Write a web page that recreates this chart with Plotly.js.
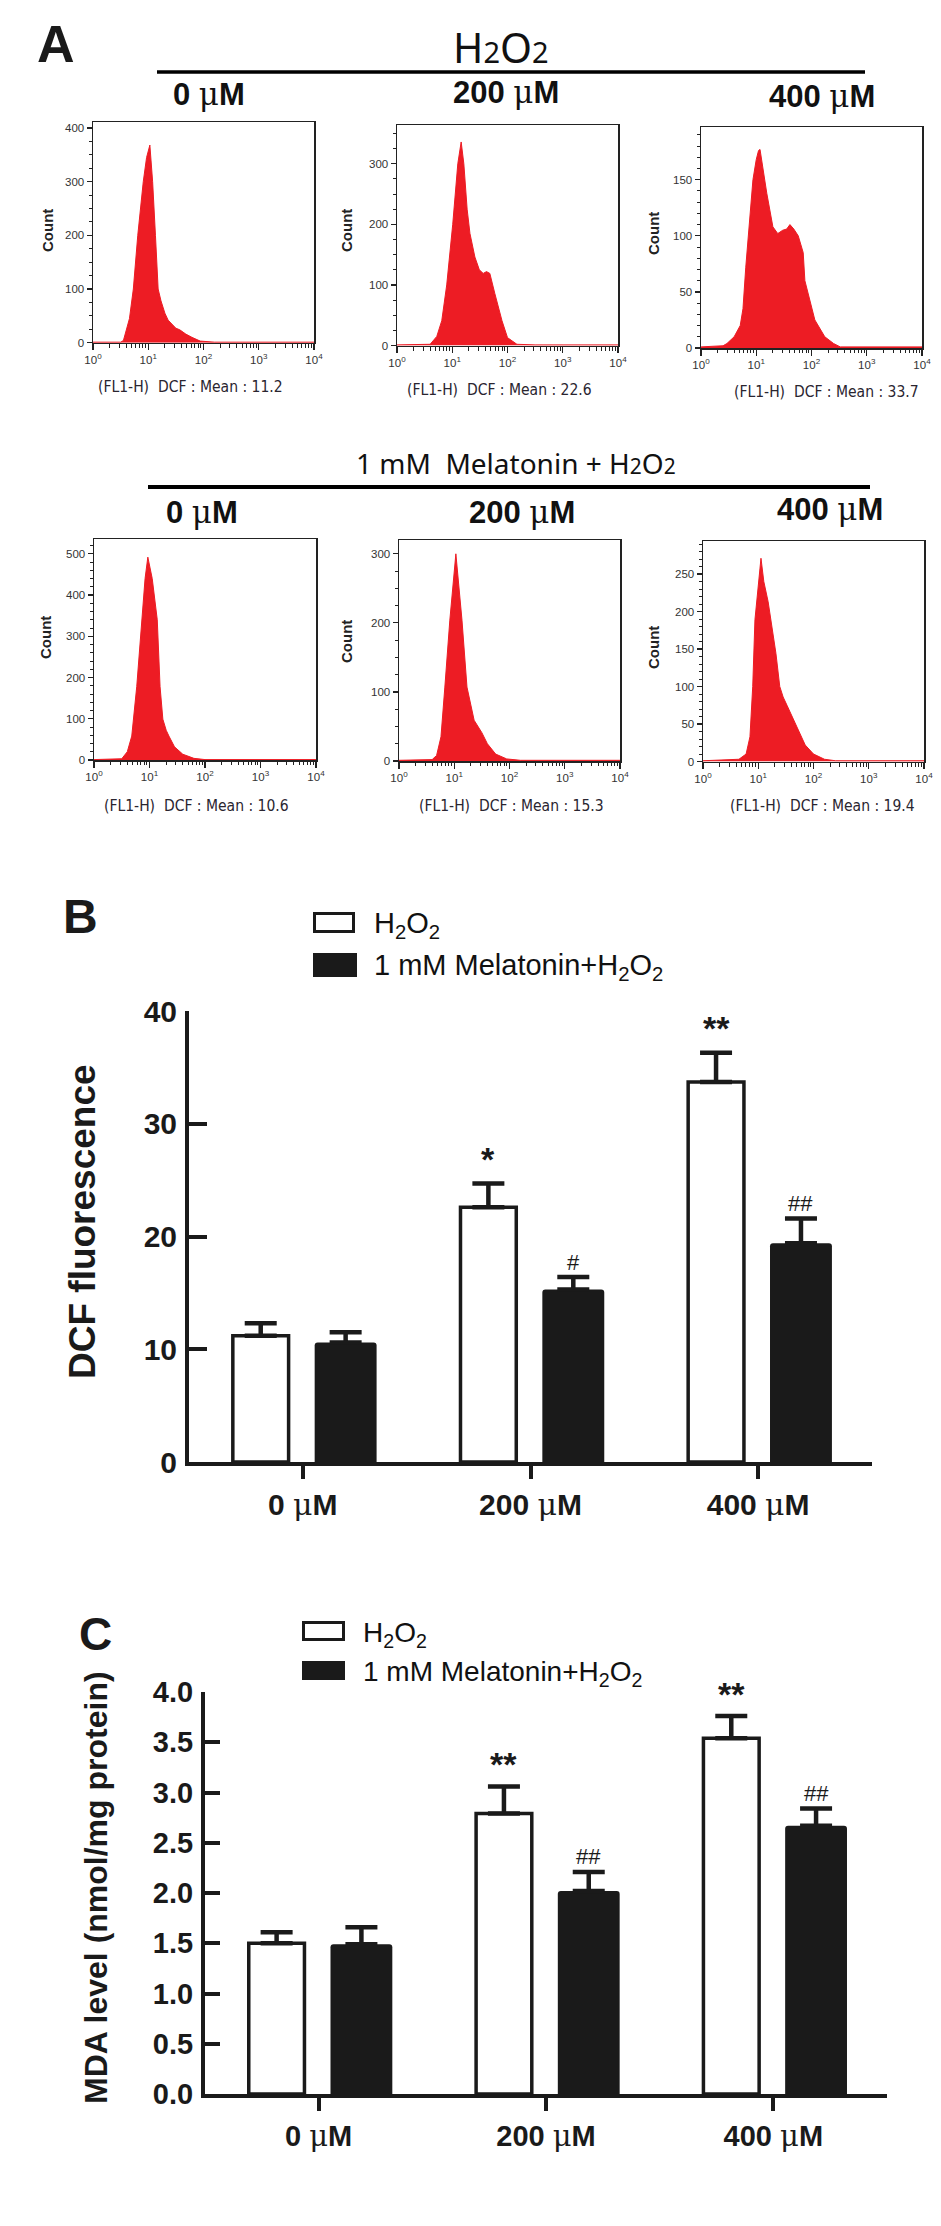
<!DOCTYPE html>
<html><head><meta charset="utf-8">
<script src="https://cdn.plot.ly/plotly-3.0.1.min.js"></script>
<style>html,body{margin:0;padding:0;background:#fff}#chart{width:941px;height:2226px}</style>
</head><body><div id="chart"></div>
<script>
// ================= DATA =================
const doseLabels = ['0 μM', '200 μM', '400 μM'];
const doseIndex = [0, 1, 2];

// Panel A – flow cytometry histograms: DCF intensity (FL1-H) vs. cell count
const h2o2_0_int   = [1, 3.16, 3.55, 3.98, 4.57, 5.37, 6.46, 8.13, 9.33, 10.7, 12.0, 13.5, 15.1, 17.0, 20.0, 22.9, 26.9, 31.6, 37.2, 47.9, 61.7, 87.1, 158, 10000];
const h2o2_0_cnt   = [1, 1, 4, 22, 45, 100, 200, 300, 345, 368, 300, 200, 100, 78, 55, 42, 34, 27, 24, 16, 10, 3, 1, 1];
const h2o2_200_int = [1, 3.98, 5.25, 6.46, 7.94, 10.2, 12.6, 14.5, 16.2, 18.6, 20.9, 25.7, 30.9, 36.3, 41.7, 47.9, 58.9, 69.2, 79.4, 100, 148, 316, 10000];
const h2o2_200_cnt = [1, 2, 15, 41, 100, 200, 300, 336, 300, 225, 185, 146, 125, 119, 122, 119, 86, 60, 41, 13, 2, 1, 1];
const h2o2_400_int = [1, 2.51, 2.95, 3.98, 5.13, 5.75, 6.46, 7.76, 8.71, 10.0, 11.0, 11.7, 13.2, 15.5, 20.0, 24.5, 30.2, 35.5, 40.7, 47.9, 57.5, 70.8, 75.9, 93.3, 115, 174, 251, 331, 10000];
const h2o2_400_cnt = [1, 2, 4, 10, 20, 35, 72, 117, 150, 168, 176, 177, 160, 138, 108, 102, 105, 106, 110, 106, 100, 85, 60, 43, 25, 10, 4, 1, 1];
const mel_0_int    = [1, 3.16, 3.98, 4.79, 5.89, 7.24, 8.32, 9.33, 11.2, 13.8, 15.5, 17.4, 20.0, 22.4, 28.2, 39.8, 63.1, 100, 10000];
const mel_0_cnt    = [1, 3, 20, 58, 178, 340, 440, 492, 440, 340, 178, 99, 72, 58, 32, 14, 4, 1, 1];
const mel_200_int  = [1, 3.98, 4.79, 5.75, 6.76, 8.32, 10.7, 12.0, 13.8, 17.0, 22.9, 31.6, 39.8, 56.2, 89.1, 158, 10000];
const mel_200_cnt  = [1, 2, 8, 35, 107, 204, 300, 260, 204, 107, 59, 41, 25, 10, 3, 1, 1];
const mel_400_int  = [1, 4.47, 6.03, 7.08, 7.94, 8.71, 11.2, 12.6, 15.1, 17.0, 20.9, 24.5, 28.2, 33.1, 38.9, 52.5, 70.8, 100, 158, 251, 10000];
const mel_400_cnt  = [1, 3, 10, 33, 100, 189, 271, 240, 213, 189, 144, 100, 86, 75, 64, 42, 22, 10, 3, 1, 1];
const histMeans    = ['11.2', '22.6', '33.7', '10.6', '15.3', '19.4'];
const histYMax     = [411, 364, 197, 536, 320, 294];
const histYDtick   = [100, 100, 50, 100, 100, 50];
const histYMinor   = [25, 25, 10, 20, 25, 10];
const logTickText  = ['10<sup>0</sup>', '10<sup>1</sup>', '10<sup>2</sup>', '10<sup>3</sup>', '10<sup>4</sup>'];

// Panel B – DCF fluorescence (mean, SEM)
const dcfH2O2    = [11.2, 22.6, 33.7];
const dcfH2O2Err = [1.1, 2.1, 2.6];
const dcfMel     = [10.6, 15.3, 19.4];
const dcfMelErr  = [0.9, 1.1, 2.2];
const dcfSigH2O2 = ['', '*', '**'];
const dcfSigMel  = ['', '#', '##'];

// Panel C – MDA level (nmol/mg protein)
const mdaH2O2    = [1.50, 2.79, 3.54];
const mdaH2O2Err = [0.11, 0.27, 0.22];
const mdaMel     = [1.49, 2.02, 2.67];
const mdaMelErr  = [0.17, 0.19, 0.17];
const mdaSigH2O2 = ['', '**', '**'];
const mdaSigMel  = ['', '##', '##'];

// ================= LAYOUT HELPERS =================
const W = 941, H = 2226;
const X = v => v / W, Y = v => 1 - v / H;
const RED = '#ED1C24', INK = '#1a1a1a';
const ARIAL = 'Liberation Sans, Arial, sans-serif';
const NARROW = 'Liberation Sans Narrow, Arial Narrow, DejaVu Sans Condensed, sans-serif';
const HEAD = 'Noto Sans, sans-serif';
const muSpan = '<span style="font-family:DejaVu Serif;font-weight:normal">μ</span>';
const doseText = doseLabels.map(s => s.replace('μ', muSpan));
const small2 = px => '<span style="font-size:' + px + 'px">2</span>';

const traces = [];
const layout = {
  width: W, height: H, margin: {l: 0, r: 0, t: 0, b: 0},
  paper_bgcolor: '#fff', plot_bgcolor: 'rgba(0,0,0,0)',
  showlegend: false, barmode: 'overlay',
  shapes: [], annotations: []
};
function ann(text, x, y, font, extra) {
  return Object.assign({text, x: X(x), y: Y(y), xref: 'paper', yref: 'paper', showarrow: false,
    xanchor: 'center', yanchor: 'middle', font: Object.assign({family: ARIAL, color: INK}, font)}, extra || {});
}

// ================= PANEL A =================
const histInt = [h2o2_0_int, h2o2_200_int, h2o2_400_int, mel_0_int, mel_200_int, mel_400_int];
const histCnt = [h2o2_0_cnt, h2o2_200_cnt, h2o2_400_cnt, mel_0_cnt, mel_200_cnt, mel_400_cnt];
// pixel frames [left, right, top, bottom]
const histBox = [[93, 314, 122, 342.7], [397, 618, 125, 345.5], [701, 922, 127, 348],
                 [94, 316, 539, 760], [399, 620, 540, 761], [703, 924, 541, 761.5]];
const minorLog = [];
for (let d = 1; d <= 1000; d *= 10) for (let m = 2; m <= 9; m++) minorLog.push(m * d);

for (let k = 0; k < 6; k++) {
  const n = k + 1, sfx = n === 1 ? '' : String(n);
  const b = histBox[k];
  traces.push({type: 'scatter', mode: 'lines', x: histInt[k], y: histCnt[k],
    xaxis: 'x' + sfx, yaxis: 'y' + sfx, fill: 'tozeroy', fillcolor: RED,
    line: {color: RED, width: 1}, hoverinfo: 'skip'});
  layout['xaxis' + sfx] = {type: 'log', range: [0, 4], domain: [X(b[0]), X(b[1])], anchor: 'y' + sfx,
    showline: true, linecolor: '#222', linewidth: 1.5, mirror: true, ticks: 'outside', ticklen: 6,
    tickwidth: 1.2, tickcolor: '#222', tickmode: 'array', tickvals: [1, 10, 100, 1000, 10000], ticktext: logTickText,
    tickfont: {family: ARIAL, size: 11.5, color: '#333'},
    minor: {tickmode: 'array', tickvals: minorLog, ticks: 'outside', ticklen: 3.5, tickwidth: 1, tickcolor: '#222'},
    showgrid: false, zeroline: false, fixedrange: true};
  layout['yaxis' + sfx] = {range: [0, histYMax[k]], domain: [Y(b[3]), Y(b[2])], anchor: 'x' + sfx,
    showline: true, linecolor: '#222', linewidth: 1.5, mirror: true, ticks: 'outside', ticklen: 5,
    tickwidth: 1.2, tickcolor: '#222', tick0: 0, dtick: histYDtick[k],
    tickfont: {family: ARIAL, size: 11.5, color: '#333'},
    minor: {dtick: histYMinor[k], ticks: 'outside', ticklen: 3, tickwidth: 1, tickcolor: '#222'},
    showgrid: false, zeroline: false, fixedrange: true};
  const countPos = [[48, 231], [347, 231], [654, 234], [45, 638], [346, 642], [654, 648]][k];
  layout.annotations.push(ann('Count', countPos[0], countPos[1], {size: 15, weight: 'bold', family: ARIAL, color: '#222'}, {textangle: -90}));
  const meanPos = [[190, 387], [500, 390], [826, 392], [196, 806], [511, 806], [822, 806]][k];
  layout.annotations.push(ann('(FL1-H)  DCF : Mean : ' + histMeans[k], meanPos[0], meanPos[1], {size: 15.5, family: NARROW, color: '#2a2530'}));
}

// Panel A headings
layout.annotations.push(ann('A', 56, 44, {size: 52, weight: 'bold'}));
layout.annotations.push(ann('H' + small2(29) + 'O' + small2(29), 501, 47, {size: 41, family: HEAD, color: '#111'}));
layout.annotations.push(ann('1 mM  Melatonin + H' + small2(21) + 'O' + small2(21), 516, 463, {size: 28, family: HEAD, color: '#111'}));
layout.shapes.push({type: 'line', xref: 'paper', yref: 'paper', x0: X(157), x1: X(865), y0: Y(72), y1: Y(72), line: {color: '#000', width: 3.5}});
layout.shapes.push({type: 'line', xref: 'paper', yref: 'paper', x0: X(148), x1: X(870), y0: Y(487), y1: Y(487), line: {color: '#000', width: 4}});
const topHead = [[209, 94], [506, 92], [822, 96]];
const lowHead = [[202, 512], [522, 512], [830, 509]];
for (let i = 0; i < 3; i++) {
  layout.annotations.push(ann(doseText[i], topHead[i][0], topHead[i][1], {size: 31, weight: 'bold', color: '#111'}));
  layout.annotations.push(ann(doseText[i], lowHead[i][0], lowHead[i][1], {size: 31, weight: 'bold', color: '#111'}));
}

// ================= PANELS B & C =================
const WHITE_C = -0.185, BLACK_C = 0.188, WHITE_W = 0.245, BLACK_W = 0.272;
function barPanel(n, box, yRange, dtick, tickfmt, fs, ticklenY, sets, sigShift) {
  const sfx = String(n);
  const [w, wErr, bl, blErr, sigW, sigB] = sets;
  traces.push({type: 'bar', x: doseIndex, y: w, xaxis: 'x' + sfx, yaxis: 'y' + sfx,
    width: WHITE_W, offset: WHITE_C - WHITE_W / 2,
    marker: {color: '#fff', line: {color: INK, width: 3.5}},
    error_y: {type: 'data', symmetric: false, array: wErr, arrayminus: [0, 0, 0], color: INK, thickness: 4.5, width: 16},
    hoverinfo: 'skip'});
  traces.push({type: 'bar', x: doseIndex, y: bl, xaxis: 'x' + sfx, yaxis: 'y' + sfx,
    width: BLACK_W, offset: BLACK_C - BLACK_W / 2,
    marker: {color: INK, line: {color: INK, width: 0}, cornerradius: 3},
    error_y: {type: 'data', symmetric: false, array: blErr, arrayminus: [0, 0, 0], color: INK, thickness: 4.5, width: 16},
    hoverinfo: 'skip'});
  layout['xaxis' + sfx] = {range: [-0.5, 2.5], domain: [X(box[0]), X(box[1])], anchor: 'y' + sfx,
    showline: true, linecolor: INK, linewidth: 4, ticks: 'outside', ticklen: 13, tickwidth: 4, tickcolor: INK,
    tickmode: 'array', tickvals: doseIndex, ticktext: doseText,
    tickfont: {family: ARIAL, size: fs, weight: 'bold', color: INK},
    showgrid: false, zeroline: false, fixedrange: true};
  layout['yaxis' + sfx] = {range: yRange, domain: [Y(box[3]), Y(box[2])], anchor: 'x' + sfx,
    showline: true, linecolor: INK, linewidth: 4, ticks: 'inside', ticklen: ticklenY, tickwidth: 4, tickcolor: INK,
    tick0: 0, dtick: dtick, tickformat: tickfmt, ticklabelstandoff: 2,
    tickfont: {family: ARIAL, size: fs, weight: 'bold', color: INK},
    showgrid: false, zeroline: false, fixedrange: true};
  for (let i = 0; i < 3; i++) {
    if (sigW[i]) layout.annotations.push({xref: 'x' + sfx, yref: 'y' + sfx, x: doseIndex[i] + WHITE_C, y: w[i] + wErr[i],
      text: sigW[i], showarrow: false, xanchor: 'center', yanchor: 'middle', yshift: sigShift[0],
      font: {family: ARIAL, size: 34, weight: 'bold', color: INK}});
    if (sigB[i]) layout.annotations.push({xref: 'x' + sfx, yref: 'y' + sfx, x: doseIndex[i] + BLACK_C, y: bl[i] + blErr[i],
      text: sigB[i], showarrow: false, xanchor: 'center', yanchor: 'middle', yshift: sigShift[1],
      font: {family: ARIAL, size: 22, color: INK}});
  }
}
barPanel(7, [189, 872, 1011, 1462], [0, 40], 10, '', 30, 18,
  [dcfH2O2, dcfH2O2Err, dcfMel, dcfMelErr, dcfSigH2O2, dcfSigMel], [25, 15]);
barPanel(8, [205, 887, 1692, 2094], [0, 4], 0.5, '.1f', 29, 15,
  [mdaH2O2, mdaH2O2Err, mdaMel, mdaMelErr, mdaSigH2O2, mdaSigMel], [22, 15]);

// Panel B labels & legend
layout.annotations.push(ann('B', 80, 916, {size: 48, weight: 'bold'}));
layout.annotations.push(ann('DCF fluorescence', 82, 1222, {size: 37, weight: 'bold'}, {textangle: -90}));
layout.shapes.push({type: 'rect', xref: 'paper', yref: 'paper', x0: X(314.5), x1: X(353.5), y0: Y(931.5), y1: Y(913.5), fillcolor: '#fff', line: {color: INK, width: 3}});
layout.shapes.push({type: 'rect', xref: 'paper', yref: 'paper', x0: X(313), x1: X(357), y0: Y(977), y1: Y(953), fillcolor: INK, line: {width: 0}});
layout.annotations.push(ann('H<sub>2</sub>O<sub>2</sub>', 372, 925, {size: 29, color: '#111'}, {xanchor: 'left'}));
layout.annotations.push(ann('1 mM Melatonin+H<sub>2</sub>O<sub>2</sub>', 372, 967, {size: 29, color: '#111'}, {xanchor: 'left'}));

// Panel C labels & legend
layout.annotations.push(ann('C', 95, 1634, {size: 46, weight: 'bold'}));
layout.annotations.push(ann('MDA level (nmol/mg protein)', 96, 1888, {size: 32, weight: 'bold'}, {textangle: -90}));
layout.shapes.push({type: 'rect', xref: 'paper', yref: 'paper', x0: X(303.5), x1: X(343.5), y0: Y(1639.5), y1: Y(1622.5), fillcolor: '#fff', line: {color: INK, width: 3}});
layout.shapes.push({type: 'rect', xref: 'paper', yref: 'paper', x0: X(302), x1: X(345), y0: Y(1680), y1: Y(1661), fillcolor: INK, line: {width: 0}});
layout.annotations.push(ann('H<sub>2</sub>O<sub>2</sub>', 361, 1634, {size: 28, color: '#111'}, {xanchor: 'left'}));
layout.annotations.push(ann('1 mM Melatonin+H<sub>2</sub>O<sub>2</sub>', 361, 1673, {size: 28, color: '#111'}, {xanchor: 'left'}));

Plotly.newPlot('chart', traces, layout, {displayModeBar: false, staticPlot: true});
</script>
</body></html>
